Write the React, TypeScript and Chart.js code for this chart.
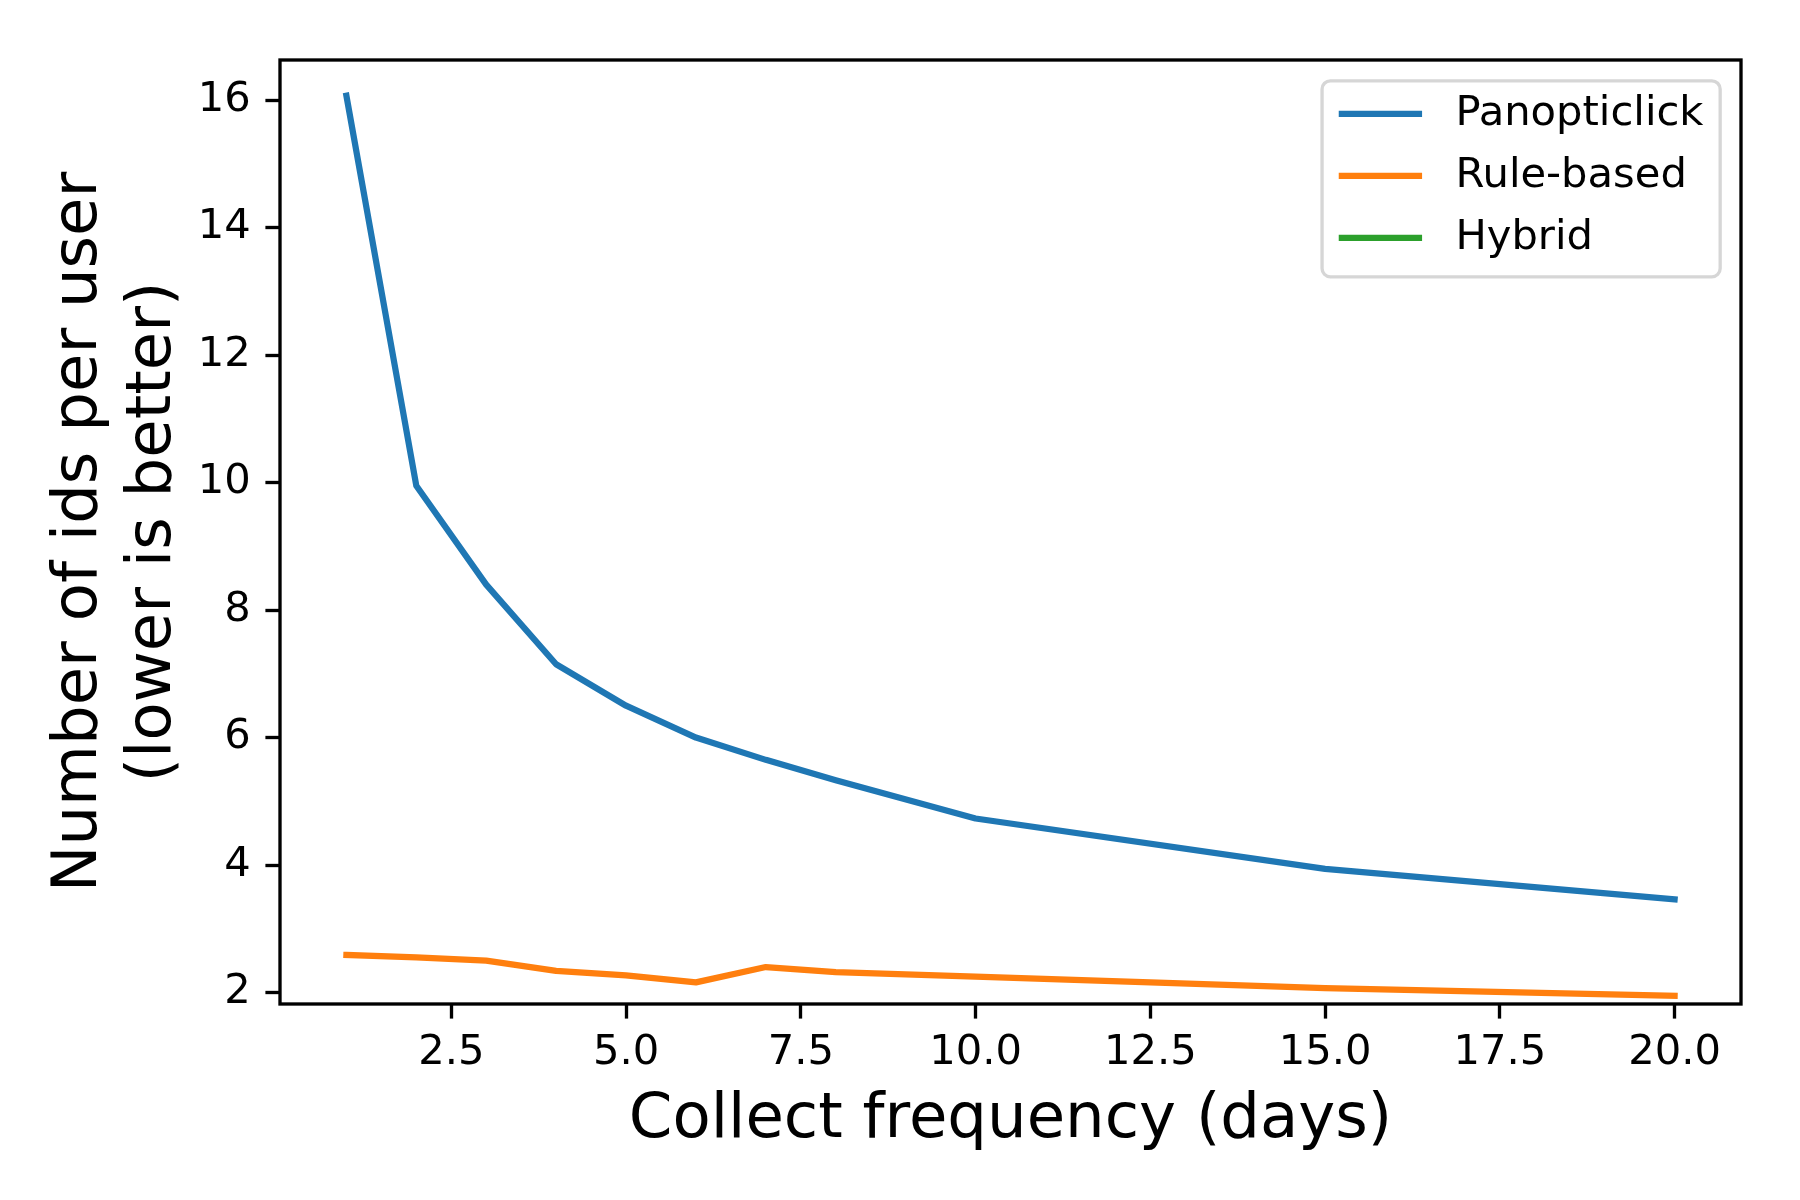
import { useEffect, useRef } from "react";
import { Chart, registerables } from "chart.js";

Chart.register(...registerables);

// ---- data ----
const collectDays = [1, 2, 3, 4, 5, 6, 7, 8, 10, 15, 20];
const panopticlickIds = [16.07, 9.95, 8.4, 7.15, 6.5, 6.0, 5.65, 5.33, 4.73, 3.94, 3.46];
const ruleBasedIds = [2.59, 2.55, 2.5, 2.34, 2.27, 2.16, 2.4, 2.32, 2.25, 2.07, 1.95];
const hybridIds: number[] = [];

const seriesNames = ["Panopticlick", "Rule-based", "Hybrid"];
const seriesColors = ["#1f77b4", "#ff7f0e", "#2ca02c"];

const xTickValues = [2.5, 5, 7.5, 10, 12.5, 15, 17.5, 20];
const yTickValues = [2, 4, 6, 8, 10, 12, 14, 16];

const xTitle = "Collect frequency (days)";
const yTitle = ["Number of ids per user", "(lower is better)"];

const FONT = '"DejaVu Sans", "Liberation Sans", sans-serif';
const TICK_FS = 41.67;
const LABEL_FS = 62.5;
const SPINE_W = 3.33;

const framePlugin = {
  id: "frameAndLegend",
  afterDraw(chart: any) {
    const { ctx, chartArea: a } = chart;
    ctx.save();
    // spines
    ctx.strokeStyle = "#000";
    ctx.lineWidth = SPINE_W;
    ctx.lineJoin = "miter";
    ctx.strokeRect(a.left, a.top, a.right - a.left, a.bottom - a.top);

    // legend (matplotlib style)
    const fs = TICK_FS;
    ctx.font = `${fs}px ${FONT}`;
    const ds = chart.data.datasets;
    const textW = Math.max(...ds.map((d: any) => ctx.measureText(d.label).width));
    const pad = 0.4 * fs;
    const handle = 2 * fs;
    const hpad = 0.8 * fs;
    const rowGap = 62;
    const boxW = pad + handle + hpad + textW + pad;
    const boxH = 196;
    const right = a.right - 0.5 * fs;
    const top = a.top + 0.5 * fs;
    const left = right - boxW;
    ctx.beginPath();
    (ctx as any).roundRect(left, top, boxW, boxH, 0.2 * fs);
    ctx.fillStyle = "rgba(255,255,255,0.8)";
    ctx.fill();
    ctx.strokeStyle = "rgba(204,204,204,0.8)";
    ctx.lineWidth = SPINE_W;
    ctx.stroke();
    ds.forEach((d: any, i: number) => {
      const cy = top + 33 + i * rowGap;
      ctx.beginPath();
      ctx.strokeStyle = d.borderColor;
      ctx.lineWidth = 6.25;
      ctx.lineCap = "butt";
      ctx.moveTo(left + pad, cy);
      ctx.lineTo(left + pad + handle, cy);
      ctx.stroke();
      ctx.fillStyle = "#000";
      ctx.textAlign = "left";
      ctx.textBaseline = "middle";
      ctx.fillText(d.label, left + pad + handle + hpad, cy);
    });
    ctx.restore();
  },
};

export default function App() {
  const ref = useRef<HTMLCanvasElement>(null);

  useEffect(() => {
    const seriesValues = [panopticlickIds, ruleBasedIds, hybridIds];
    const datasets = seriesNames.map((name, i) => ({
      label: name,
      data: seriesValues[i].map((v, j) => ({ x: collectDays[j], y: v })),
      borderColor: seriesColors[i],
      backgroundColor: seriesColors[i],
      borderWidth: 6.25,
      pointRadius: 0,
      tension: 0,
      fill: false,
      borderCapStyle: "square" as const,
      borderJoinStyle: "round" as const,
    }));

    const gridOpts = {
      display: true,
      drawOnChartArea: false,
      drawTicks: true,
      tickLength: 14.6,
      tickWidth: SPINE_W,
      tickColor: "#000",
    };

    const chart = new Chart(ref.current!, {
      type: "line",
      data: { datasets },
      options: {
        animation: false,
        responsive: true,
        maintainAspectRatio: false,
        devicePixelRatio: 1,
        layout: { padding: { top: 60, right: 59, left: 0, bottom: 0 } },
        plugins: {
          legend: { display: false },
          tooltip: { enabled: false },
        },
        scales: {
          x: {
            type: "linear",
            min: 0.05,
            max: 20.95,
            afterBuildTicks: (s: any) => {
              s.ticks = xTickValues.map((v) => ({ value: v }));
            },
            afterFit: (s: any) => {
              s.height = 196;
            },
            grid: gridOpts,
            border: { display: false },
            ticks: {
              color: "#000",
              font: { family: FONT, size: TICK_FS },
              padding: 10,
              maxRotation: 0,
              autoSkip: false,
              callback: (v: any) => Number(v).toFixed(1),
            },
            title: {
              display: true,
              text: xTitle,
              color: "#000",
              font: { family: FONT, size: LABEL_FS, lineHeight: 1.18 },
              padding: { top: 0, bottom: 42 },
            },
          },
          y: {
            type: "linear",
            min: 1.82,
            max: 16.63,
            afterBuildTicks: (s: any) => {
              s.ticks = yTickValues.map((v) => ({ value: v }));
            },
            afterFit: (s: any) => {
              s.width = 280;
            },
            grid: gridOpts,
            border: { display: false },
            ticks: {
              color: "#000",
              font: { family: FONT, size: TICK_FS },
              padding: 14.6,
              autoSkip: false,
              callback: (v: any) => String(v),
            },
            title: {
              display: true,
              text: yTitle,
              color: "#000",
              font: { family: FONT, size: LABEL_FS, lineHeight: 1.18 },
              padding: { top: 43, bottom: 0 },
            },
          },
        },
      },
      plugins: [framePlugin],
    });
    return () => chart.destroy();
  }, []);

  return (
    <div
      style={{
        position: "absolute",
        left: 0,
        top: 0,
        width: 1800,
        height: 1200,
        background: "#fff",
      }}
    >
      <canvas ref={ref} />
    </div>
  );
}
